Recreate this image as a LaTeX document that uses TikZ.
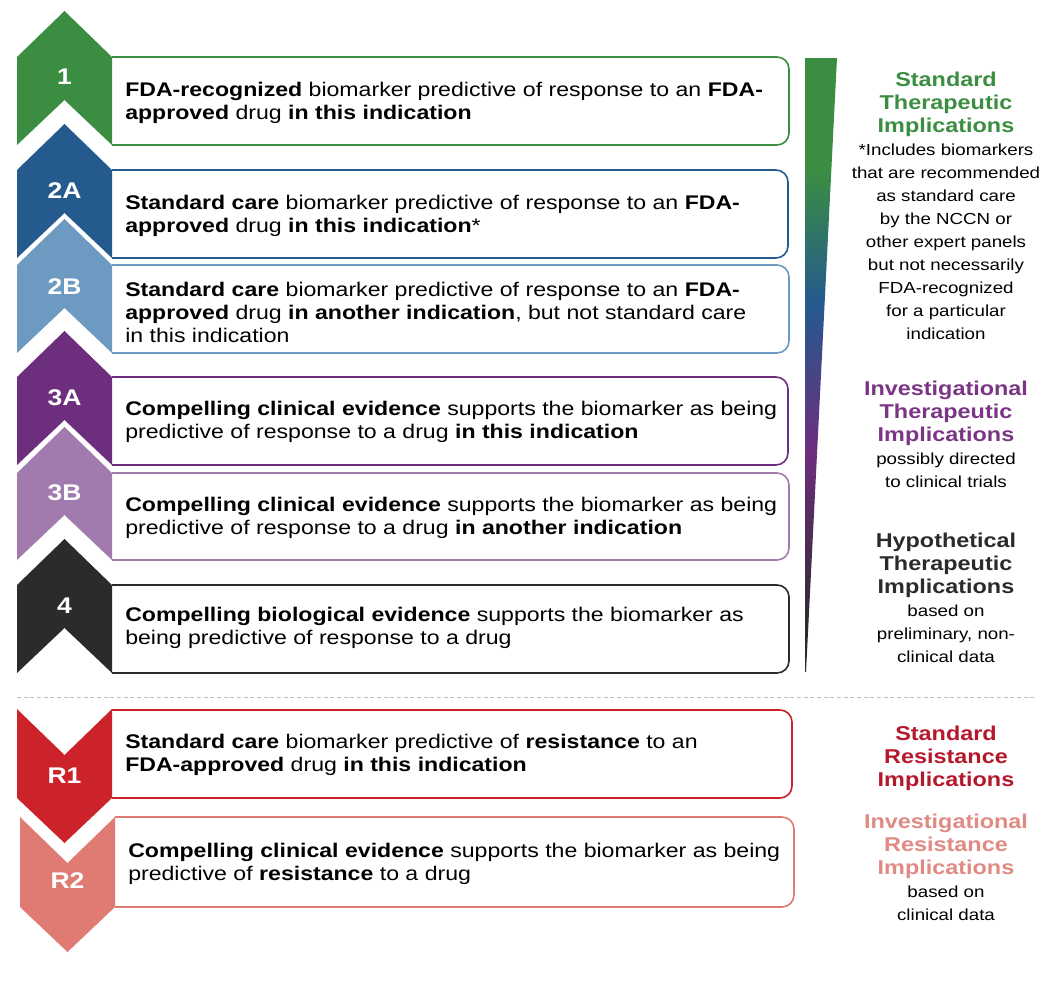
\documentclass[tikz,border=0pt]{standalone}
\usepackage{fontspec}
\setmainfont{Liberation Sans}[FakeStretch=1.17]
\usetikzlibrary{positioning}
\definecolor{lvone}{HTML}{3B8E41}
\definecolor{lvtwoA}{HTML}{245A8E}
\definecolor{lvtwoB}{HTML}{6C9AC0}
\definecolor{lvthreeA}{HTML}{6E2E7E}
\definecolor{lvthreeB}{HTML}{A27BAE}
\definecolor{lvfour}{HTML}{2B2B2B}
\definecolor{lvRone}{HTML}{CC2229}
\definecolor{lvRtwo}{HTML}{E07B74}
\definecolor{hdpurple}{HTML}{7B3585}
\definecolor{hdred}{HTML}{B5172B}
\definecolor{hdsalmon}{HTML}{E08A84}
\pgfdeclareverticalshading{wedgeshade}{100bp}{color(0bp)=(lvfour); color(28bp)=(lvfour); color(43bp)=(lvthreeA); color(55bp)=(lvtwoA); color(66bp)=(lvone); color(100bp)=(lvone)}

\begin{document}
\begin{tikzpicture}[x=0.75pt,y=-0.75pt,
    boxtxt/.style={anchor=west,align=left,inner sep=0pt,font=\fontsize{14.8}{17.25}\selectfont},
    lvl/.style={text=white,inner sep=0pt,font=\fontsize{17}{18}\selectfont\bfseries},
    rim/.style={line width=1.2pt,rounded corners=9pt},
    hd/.style={anchor=north,align=center,inner sep=0pt,font=\fontsize{15}{17.25}\selectfont\bfseries},
    bd/.style={align=center,inner sep=0pt,font=\fontsize{12}{17.25}\selectfont}]
\useasboundingbox (0,0) rectangle (1047,992);

% boxes
\draw[rim,lvone] (112,57) -| (789,145) -- (112,145);
\draw[rim,lvtwoA] (112,170) -| (788,258) -- (112,258);
\draw[rim,lvtwoB] (112,265) -| (789,353) -- (112,353);
\draw[rim,lvthreeA] (112,377) -| (788,465) -- (112,465);
\draw[rim,lvthreeB] (112,473) -| (789,560) -- (112,560);
\draw[rim,lvfour] (112,585) -| (789,673) -- (112,673);
\draw[rim,lvRone] (112,710) -| (792,798) -- (112,798);
\draw[rim,lvRtwo] (115,817) -| (794,907) -- (115,907);

% chevrons
\fill[lvone] (17,57) -- (64.5,11) -- (112,57) -- (112,145) -- (64.5,100) -- (17,145) -- cycle;
\fill[lvtwoA] (17,170) -- (64.5,124) -- (112,170) -- (112,258) -- (64.5,213) -- (17,258) -- cycle;
\fill[lvtwoB] (17,265) -- (64.5,219) -- (112,265) -- (112,353) -- (64.5,308) -- (17,353) -- cycle;
\fill[lvthreeA] (17,377) -- (64.5,331) -- (112,377) -- (112,465) -- (64.5,420) -- (17,465) -- cycle;
\fill[lvthreeB] (17,473) -- (64.5,427) -- (112,473) -- (112,560) -- (64.5,515) -- (17,560) -- cycle;
\fill[lvfour] (17,585) -- (64.5,539) -- (112,585) -- (112,673) -- (64.5,628) -- (17,673) -- cycle;
\fill[lvRone] (17,709) -- (64.5,755) -- (112,709) -- (112,798) -- (64.5,843) -- (17,798) -- cycle;
\fill[lvRtwo] (20,817) -- (67.5,863) -- (115,817) -- (115,907) -- (67.5,952) -- (20,907) -- cycle;

\node[lvl] (n1) at (64.5,77) {1};
\node[lvl] (n2A) at (64.5,191) {2A};
\node[lvl] (n2B) at (64.5,287) {2B};
\node[lvl] (n3A) at (64.5,398) {3A};
\node[lvl] (n3B) at (64.5,493) {3B};
\node[lvl] (n4) at (64.5,606) {4};
\node[lvl] (nR1) at (64.5,776) {R1};
\node[lvl] (nR2) at (67.5,881) {R2};

\node[boxtxt] (t1) at (125,103) {\textbf{FDA-recognized} biomarker predictive of response to an \textbf{FDA-}\\\textbf{approved} drug \textbf{in this indication}};
\node[boxtxt] (t2A) at (125,216) {\textbf{Standard care} biomarker predictive of response to an \textbf{FDA-}\\\textbf{approved} drug \textbf{in this indication}*};
\node[boxtxt] (t2B) at (125,312) {\textbf{Standard care} biomarker predictive of response to an \textbf{FDA-}\\\textbf{approved} drug \textbf{in another indication}, but not standard care\\in this indication};
\node[boxtxt] (t3A) at (125,422) {\textbf{Compelling clinical evidence} supports the biomarker as being\\predictive of response to a drug \textbf{in this indication}};
\node[boxtxt] (t3B) at (125,518) {\textbf{Compelling clinical evidence} supports the biomarker as being\\predictive of response to a drug \textbf{in another indication}};
\node[boxtxt] (t4) at (125,628) {\textbf{Compelling biological evidence} supports the biomarker as\\being predictive of response to a drug};
\node[boxtxt] (tR1) at (125,755) {\textbf{Standard care} biomarker predictive of \textbf{resistance} to an\\\textbf{FDA-approved} drug \textbf{in this indication}};
\node[boxtxt] (tR2) at (128,864) {\textbf{Compelling clinical evidence} supports the biomarker as being\\predictive of \textbf{resistance} to a drug};

% gradient wedge
\shade[shading=wedgeshade] (805,58) -- (837,58) -- (806,672) -- (805,672) -- cycle;

% right column
\node[hd,text=lvone] (h1) at (946,72) {Standard\\Therapeutic\\Implications};
\node[bd,below=5pt of h1] (b1) {*Includes biomarkers\\that are recommended\\as standard care\\by the NCCN or\\other expert panels\\but not necessarily\\FDA-recognized\\for a particular\\indication};
\node[hd,text=hdpurple] (h2) at (946,381) {Investigational\\Therapeutic\\Implications};
\node[bd,below=5pt of h2] (b2) {possibly directed\\to clinical trials};
\node[hd,text=lvfour] (h3) at (946,533) {Hypothetical\\Therapeutic\\Implications};
\node[bd,below=5pt of h3] (b3) {based on\\preliminary, non-\\clinical data};
\node[hd,text=hdred] (h4) at (946,726) {Standard\\Resistance\\Implications};
\node[hd,text=hdsalmon] (h5) at (946,814) {Investigational\\Resistance\\Implications};
\node[bd,below=5pt of h5] (b5) {based on\\clinical data};

\draw[gray!50,densely dashed] (17,697) -- (1035,697);
\end{tikzpicture}
\end{document}
